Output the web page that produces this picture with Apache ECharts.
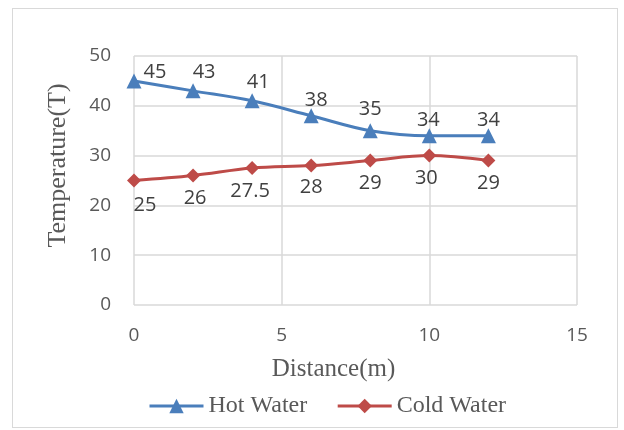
<!DOCTYPE html>
<html>
<head>
<meta charset="utf-8">
<script src="https://cdn.jsdelivr.net/npm/echarts@6/dist/echarts.min.js"></script>
<style>
  html, body { margin: 0; padding: 0; background: #fff; }
  #frame { position: absolute; left: 12px; top: 8px; width: 606px; height: 420px; border: 1px solid #d9d9d9; box-sizing: border-box; }
  #chart { position: absolute; left: 0; top: 0; width: 624px; height: 430px; }
</style>
</head>
<body>
<div id="frame"></div>
<div id="chart"></div>
<script>
// Distance along the pipe (m)
const distance = [0, 2, 4, 6, 8, 10, 12];
// Measured temperatures
const hotWater = [45, 43, 41, 38, 35, 34, 34];
const coldWater = [25, 26, 27.5, 28, 29, 30, 29];

// label nudges so the numbers clear the curves
const hotLabelOffsets = [[21, 9], [11, -1], [6, -1], [5, 2], [0, -4], [-1, 2], [0, 2]];
const coldLabelOffsets = [[11, 2], [2, 0], [-2, 0], [0, -1], [0, 0], [-3, 0], [0, 0]];

const blue = '#4a7ebb';
const red = '#be4b48';
const numFont = '"Open Sans", "Liberation Sans", sans-serif';
const serif = '"Liberation Serif", "DejaVu Serif", serif';

const chart = echarts.init(document.getElementById('chart'));
chart.setOption({
  animation: false,
  grid: { left: 134, right: 47, top: 56, bottom: 125, containLabel: false },
  xAxis: {
    type: 'value', min: 0, max: 15, interval: 5,
    name: 'Distance(m)', nameLocation: 'middle', nameGap: 52,
    nameTextStyle: { fontFamily: serif, fontSize: 25, color: '#595959', padding: [0, 44, 0, 0] },
    axisLine: { show: false }, axisTick: { show: false },
    axisLabel: { fontFamily: numFont, fontSize: 19, color: '#595959', margin: 21 },
    splitLine: { show: true, lineStyle: { color: '#d9d9d9', width: 1.5 } }
  },
  yAxis: {
    type: 'value', min: 0, max: 50, interval: 10,
    name: 'Temperature(T)', nameLocation: 'middle', nameGap: 63,
    nameTextStyle: { fontFamily: serif, fontSize: 26, color: '#595959', padding: [0, 0, 0, 30] },
    axisLine: { show: false }, axisTick: { show: false },
    axisLabel: { fontFamily: numFont, fontSize: 19, color: '#595959', margin: 23 },
    splitLine: { show: true, lineStyle: { color: '#d9d9d9', width: 1.5 } }
  },
  legend: {
    bottom: 7, left: 143, itemGap: 29, itemWidth: 54, itemHeight: 18,
    lineStyle: { width: 3 },
    textStyle: { fontFamily: serif, fontSize: 24, color: '#595959' },
    data: ['Hot Water', 'Cold Water']
  },
  series: [
    {
      name: 'Hot Water', type: 'line', smooth: 0.35,
      symbol: 'triangle', symbolSize: 15,
      lineStyle: { color: blue, width: 3 },
      itemStyle: { color: blue },
      label: { show: true, position: 'top', distance: 0, fontFamily: numFont, fontSize: 20, color: '#404040' },
      data: hotWater.map((v, i) => ({ value: [distance[i], v], label: { offset: hotLabelOffsets[i] } }))
    },
    {
      name: 'Cold Water', type: 'line', smooth: 0.35,
      symbol: 'diamond', symbolSize: 14,
      lineStyle: { color: red, width: 3 },
      itemStyle: { color: red },
      label: { show: true, position: 'bottom', distance: 6, fontFamily: numFont, fontSize: 20, color: '#404040' },
      data: coldWater.map((v, i) => ({ value: [distance[i], v], label: { offset: coldLabelOffsets[i] } }))
    }
  ]
});
</script>
</body>
</html>
